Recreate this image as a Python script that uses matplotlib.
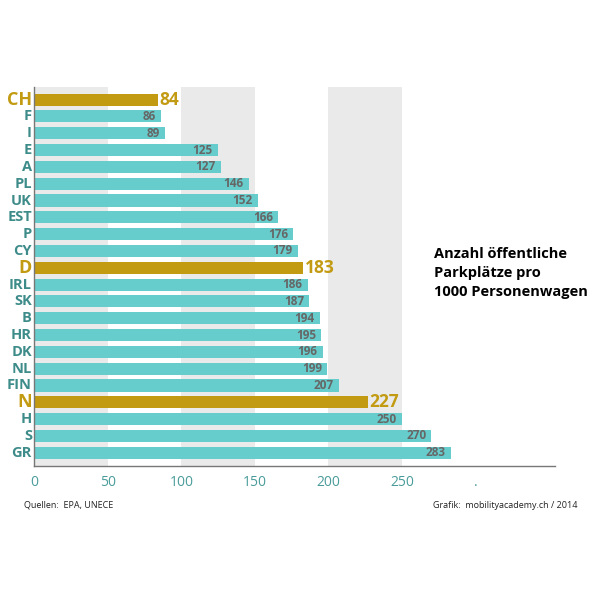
import matplotlib.pyplot as plt

countries = ["CH", "F", "I", "E", "A", "PL", "UK", "EST", "P", "CY", "D",
             "IRL", "SK", "B", "HR", "DK", "NL", "FIN", "N", "H", "S", "GR"]
values = [84, 86, 89, 125, 127, 146, 152, 166, 176, 179, 183,
          186, 187, 194, 195, 196, 199, 207, 227, 250, 270, 283]
highlight = ["CH", "D", "N"]

TEAL = "#66CDCC"
GOLD = "#C29B12"
LABEL_TEAL = "#3E8C8A"

plt.rcParams["font.family"] = ["Open Sans", "DejaVu Sans"]

fig = plt.figure(figsize=(6, 6), dpi=100)
ax = fig.add_axes([0.057, 0.223, 0.868, 0.632])

n = len(countries)
ypos = list(range(n))
colors = [GOLD if c in highlight else TEAL for c in countries]
ax.barh(ypos, values, height=0.72, color=colors, zorder=2)

# alternating grey bands
for x0 in (0, 100, 200):
    ax.axvspan(x0, x0 + 50, color="#EAEAEA", zorder=0, lw=0)

for y, c, v in zip(ypos, countries, values):
    if c in highlight:
        ax.text(v + 1, y, str(v), ha="left", va="center", color=GOLD,
                fontsize=12.5, fontweight="bold", zorder=3)
        ax.text(-1.5, y, c, ha="right", va="center", color=GOLD,
                fontsize=13, fontweight="bold", clip_on=False)
    else:
        ax.text(v - 3.5, y, str(v), ha="right", va="center", color="#666666",
                fontsize=8.5, fontweight="bold", zorder=3)
        ax.text(-1.5, y, c, ha="right", va="center", color=LABEL_TEAL,
                fontsize=10.5, fontweight="bold", clip_on=False)

ax.set_ylim(n - 1 + 0.8, -0.75)
ax.set_xlim(0, 354)
ax.set_yticks([])
ax.set_xticks([0, 50, 100, 150, 200, 250, 300])
ax.set_xticklabels(["0", "50", "100", "150", "200", "250", "."])
ax.tick_params(axis="x", length=0, pad=6, labelsize=10, labelcolor="#4A9C9A")

for s in ("top", "right"):
    ax.spines[s].set_visible(False)
for s in ("left", "bottom"):
    ax.spines[s].set_color("#777777")
    ax.spines[s].set_linewidth(1)

fig.text(0.723, 0.588, "Anzahl öffentliche\nParkplätze pro\n1000 Personenwagen",
         ha="left", va="top", fontsize=10.5, fontweight="bold", color="black",
         linespacing=1.45)

fig.text(0.04, 0.158, "Quellen:  EPA, UNECE", ha="left", va="center",
         fontsize=6.5, color="#222222")
fig.text(0.962, 0.158, "Grafik:  mobilityacademy.ch / 2014", ha="right", va="center",
         fontsize=6.5, color="#222222")

fig.savefig("out.png", dpi=100)
